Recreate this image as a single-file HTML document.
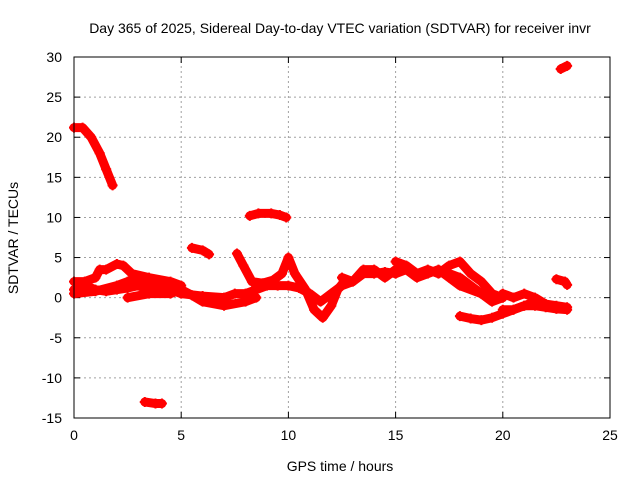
<!DOCTYPE html>
<html><head><meta charset="utf-8"><style>
body{margin:0;background:#fff}
svg{display:block;font-family:"Liberation Sans",sans-serif}
</style></head><body>
<svg id="chart" width="640" height="480" viewBox="0 0 640 480">
<text x="340" y="33" font-size="14" text-anchor="middle">Day 365 of 2025, Sidereal Day-to-day VTEC variation (SDTVAR) for receiver invr</text>
<text x="340" y="471" font-size="14" text-anchor="middle">GPS time / hours</text>
<text transform="translate(18,238) rotate(-90)" font-size="14" text-anchor="middle">SDTVAR / TECUs</text>
<g id="grid"></g><g id="ticks"></g><g id="series"></g>
<rect x="74" y="57" width="536" height="361" fill="none" stroke="#000"/>
</svg>
<script>
const xTicks=[0,5,10,15,20,25];
const yTicks=[-15,-10,-5,0,5,10,15,20,25,30];
const tracks=[
[[0,21.2],[0.4,21.2],[0.8,20],[1.2,18],[1.5,16],[1.8,14]],
[[8.2,10.2],[8.6,10.5],[9.2,10.5],[9.6,10.3],[9.9,10.0]],
[[5.5,6.2],[6.0,5.9],[6.3,5.4]],
[[3.3,-13],[3.8,-13.2],[4.1,-13.2]],
[[22.7,28.5],[23.0,28.9]],
[[22.5,2.3],[22.9,2.0],[23.0,1.6]],
[[0,1],[0.5,1.5],[1,1],[1.5,0.8],[2,1],[2.5,1.2],[3,1.5],[3.5,1],[4,1.2],[4.5,1],[5,0.5],[6,0.2],[7,0],[7.5,0.5],[8,0.5],[8.5,1],[9,1.5],[9.5,1.5],[10,1.5],[10.5,1.2],[11,0.5],[11.5,-0.5],[12,0.5],[12.5,1.5],[13,2],[13.5,3],[14,3],[14.5,3.2],[15,3]],
[[0,2],[0.5,2],[1,2.5],[1.2,3.5],[1.5,3.5],[2,4.2],[2.3,4],[2.7,3],[3.5,2.5],[4.5,2],[5,1.5]],
[[0,0.5],[1,0.8],[2,1.5],[2.5,2],[3,2.5],[3.5,2],[4,1.5]],
[[2.5,0],[3.5,0.5],[4.5,0.5],[5,1],[5.5,0.3],[6,-0.5],[7,-1],[8,-0.5],[8.5,0]],
[[7.6,5.5],[7.9,4],[8.3,2],[8.8,1.8],[9.3,2.2],[9.7,3],[10,5],[10.3,3],[10.8,1],[11.2,-1.5],[11.6,-2.5],[12,-1],[12.3,1],[12.6,2]],
[[12.5,2.5],[13,2],[13.5,3.5],[14,3.5],[14.5,2.5],[15,3.5]],
[[15,4.5],[15.5,4],[16,3],[16.5,3.5],[17,3],[17.5,4],[18,4.5],[18.5,3],[19,2],[19.5,0.5],[20,0]],
[[15,3],[15.5,3.5],[16,2.5],[16.5,3],[17,3.5],[17.5,2.5],[18,1.5],[19,0.5],[19.5,-0.3]],
[[17.5,3],[18,2.5],[18.5,1.5],[19,0.5],[19.5,-0.5],[20,0]],
[[18,-2.3],[18.5,-2.6],[19,-2.8],[19.5,-2.5],[20,-2],[20.5,-1.5],[21,-1],[21.5,-1],[22,-1.2],[22.5,-1.4],[23,-1.5]],
[[20,0.5],[20.5,0],[21,0.5],[21.5,0],[22,-0.8],[22.5,-1],[23,-1.2]],
[[20,-1.5],[20.5,-1.5],[21,-1],[21.5,-0.5],[22,-0.8]]
];
const NS="http://www.w3.org/2000/svg";
const X0=74,X1=610,Y0=418,Y1=57;
function sx(v){return X0+(v-0)/(25-0)*(X1-X0);}
function sy(v){return Y0-(v+15)/(30+15)*(Y0-Y1);}
function mk(t,a,p){const e=document.createElementNS(NS,t);for(const k in a)e.setAttribute(k,a[k]);p.appendChild(e);return e;}
const grid=document.getElementById('grid'),ticks=document.getElementById('ticks'),ser=document.getElementById('series');
xTicks.forEach(v=>{const x=sx(v);
 if(v>0&&v<25){const g=mk('line',{x1:x,x2:x,y1:Y0,y2:Y1,stroke:'#a0a0a0','stroke-dasharray':'2,3'},grid);
 
 }
 mk('line',{x1:x,x2:x,y1:Y0,y2:Y0-6,stroke:'#000'},ticks);
 mk('line',{x1:x,x2:x,y1:Y1,y2:Y1+6,stroke:'#000'},ticks);
 const t=mk('text',{x:x,y:Y0+22,'font-size':14,'text-anchor':'middle'},ticks);t.textContent=v;
 
 
});
yTicks.forEach(v=>{const y=sy(v);
 if(v>-15&&v<30){const g=mk('line',{x1:X0,x2:X1,y1:y,y2:y,stroke:'#a0a0a0','stroke-dasharray':'2,3'},grid);
 
 }
 mk('line',{x1:X0,x2:X0+6,y1:y,y2:y,stroke:'#000'},ticks);
 mk('line',{x1:X1,x2:X1-6,y1:y,y2:y,stroke:'#000'},ticks);
 const t=mk('text',{x:X0-12,y:y+5,'font-size':14,'text-anchor':'end'},ticks);t.textContent=v;
 
 
});
tracks.forEach(tr=>{
 const pl=mk('polyline',{points:tr.map(p=>sx(p[0])+','+sy(p[1])).join(' '),fill:'none',stroke:'#ff0000','stroke-width':9,'stroke-linejoin':'round','stroke-linecap':'round'},ser);
 
 
 tr.forEach(p=>{const x=sx(p[0]),y=sy(p[1]);
  const m=mk('path',{d:`M${x-5},${y}H${x+5}M${x},${y-5}V${y+5}`,stroke:'#ff0000','stroke-width':2},ser);
  
  
 });
});
</script>
</body></html>
